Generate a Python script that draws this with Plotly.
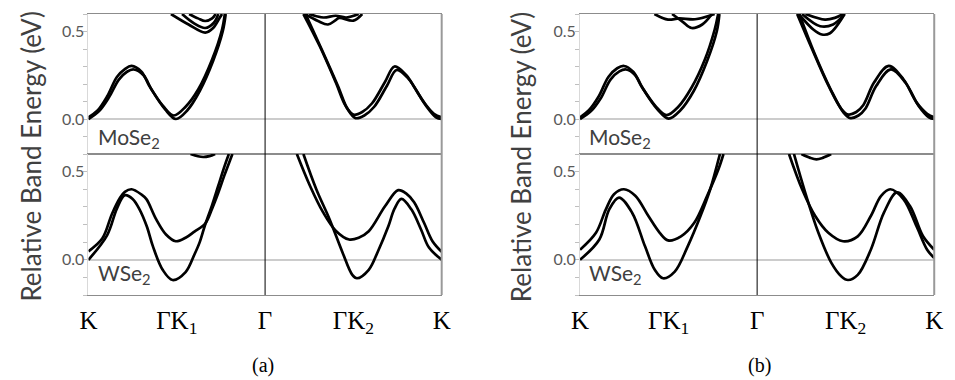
import plotly.graph_objects as go

# ---------------- data (x: path coordinate K=0, Γ=1, K=2; y: eV) ----------------
tick_pos = [0, 0.5, 1, 1.5, 2]
tick_txt = ["K", "ΓK<sub>1</sub>", "Γ", "ΓK<sub>2</sub>", "K"]

# (a) MoSe2
a_mo_A_x = [0, 0.05, 0.106, 0.161, 0.206, 0.244, 0.30, 0.344, 0.422, 0.483, 0.55, 0.622, 0.70, 0.756, 0.772,
            1.217, 1.309, 1.40, 1.456, 1.50, 1.55, 1.606, 1.678, 1.733, 1.80, 1.828, 1.90, 1.956, 2.0]
a_mo_A_y = [0.01, 0.047, 0.13, 0.24, 0.285, 0.303, 0.27, 0.19, 0.075, 0.02, 0.07, 0.17, 0.34, 0.51, 0.60,
            0.60, 0.417, 0.21, 0.075, 0.025, 0.04, 0.09, 0.21, 0.30, 0.25, 0.21, 0.095, 0.03, 0.01]
a_mo_B_x = [0, 0.06, 0.117, 0.172, 0.218, 0.256, 0.312, 0.356, 0.434, 0.495, 0.56, 0.63, 0.705, 0.76, 0.777,
            1.229, 1.321, 1.412, 1.468, 1.512, 1.562, 1.618, 1.69, 1.745, 1.812, 1.84, 1.912, 1.968, 2.0]
a_mo_B_y = [0.0, 0.045, 0.125, 0.225, 0.27, 0.283, 0.25, 0.17, 0.055, 0.0, 0.05, 0.16, 0.33, 0.50, 0.60,
            0.60, 0.397, 0.19, 0.055, 0.005, 0.02, 0.07, 0.19, 0.28, 0.23, 0.19, 0.075, 0.01, 0.0]
a_mo_U1_x = [0.467, 0.567, 0.661, 0.706, 0.744, 0.756]
a_mo_U1_y = [0.60, 0.54, 0.494, 0.52, 0.58, 0.60]
a_mo_U2_x = [0.53, 0.60, 0.661, 0.71, 0.735]
a_mo_U2_y = [0.60, 0.545, 0.52, 0.55, 0.60]
a_mo_U3_x = [0.57, 0.62, 0.661, 0.70, 0.72]
a_mo_U3_y = [0.60, 0.575, 0.56, 0.575, 0.60]
a_mo_U4_x = [1.226, 1.30, 1.356, 1.40, 1.42, 1.50, 1.55]
a_mo_U4_y = [0.60, 0.56, 0.54, 0.565, 0.578, 0.562, 0.60]
a_mo_U5_x = [1.25, 1.33, 1.40, 1.46, 1.53]
a_mo_U5_y = [0.60, 0.58, 0.59, 0.58, 0.60]

# (a) WSe2
a_w_A_x = [0, 0.078, 0.133, 0.178, 0.206, 0.244, 0.30, 0.328, 0.383, 0.439, 0.494, 0.55, 0.60, 0.661, 0.70, 0.735, 0.77, 0.80, 0.815,
           1.18, 1.254, 1.328, 1.40, 1.476, 1.53, 1.587, 1.68, 1.754, 1.80, 1.844, 1.90, 1.948, 2.0]
a_w_A_y = [0.048, 0.12, 0.26, 0.35, 0.385, 0.40, 0.37, 0.344, 0.23, 0.143, 0.105, 0.125, 0.16, 0.205, 0.29, 0.38, 0.48, 0.56, 0.60,
           0.60, 0.42, 0.27, 0.165, 0.115, 0.125, 0.162, 0.305, 0.395, 0.375, 0.326, 0.21, 0.105, 0.045]
a_w_B_x = [0, 0.106, 0.161, 0.206, 0.25, 0.289, 0.33, 0.365, 0.42, 0.476, 0.55, 0.60, 0.63, 0.661, 0.70, 0.735, 0.77, 0.795,
           1.217, 1.29, 1.365, 1.439, 1.494, 1.52, 1.587, 1.64, 1.698, 1.733, 1.772, 1.828, 1.883, 1.928, 2.0]
a_w_B_y = [0.0, 0.14, 0.29, 0.366, 0.345, 0.286, 0.19, 0.076, -0.057, -0.115, -0.07, 0.03, 0.10, 0.20, 0.31, 0.42, 0.53, 0.60,
           0.60, 0.40, 0.23, 0.04, -0.086, -0.105, -0.057, 0.05, 0.19, 0.29, 0.345, 0.286, 0.172, 0.069, 0.0]
a_w_U_x = [0.578, 0.62, 0.65, 0.685, 0.717]
a_w_U_y = [0.60, 0.587, 0.583, 0.588, 0.60]

# (b) MoSe2
b_mo_A_x = [0, 0.05, 0.106, 0.16, 0.21, 0.248, 0.30, 0.345, 0.425, 0.488, 0.555, 0.63, 0.705, 0.76, 0.78,
            1.226, 1.31, 1.403, 1.476, 1.515, 1.56, 1.60, 1.66, 1.743, 1.826, 1.90, 1.96, 2.0]
b_mo_A_y = [0.01, 0.05, 0.13, 0.24, 0.29, 0.303, 0.27, 0.19, 0.075, 0.022, 0.07, 0.18, 0.34, 0.51, 0.60,
            0.60, 0.40, 0.19, 0.057, 0.025, 0.04, 0.08, 0.208, 0.303, 0.227, 0.095, 0.03, 0.01]
b_mo_B_x = [0, 0.062, 0.118, 0.172, 0.222, 0.26, 0.312, 0.357, 0.437, 0.50, 0.567, 0.642, 0.717, 0.772, 0.787,
            1.238, 1.322, 1.415, 1.488, 1.527, 1.572, 1.612, 1.672, 1.755, 1.838, 1.912, 1.97, 2.0]
b_mo_B_y = [0.0, 0.045, 0.12, 0.225, 0.272, 0.283, 0.25, 0.17, 0.055, 0.002, 0.05, 0.16, 0.33, 0.50, 0.60,
            0.60, 0.38, 0.17, 0.037, 0.005, 0.02, 0.06, 0.188, 0.283, 0.207, 0.075, 0.01, 0.0]
b_mo_U1_x = [0.52, 0.58, 0.63, 0.69, 0.745]
b_mo_U1_y = [0.60, 0.555, 0.52, 0.54, 0.60]
b_mo_U2_x = [0.42, 0.497, 0.56, 0.65, 0.76]
b_mo_U2_y = [0.60, 0.568, 0.575, 0.57, 0.60]
b_mo_U3_x = [1.235, 1.319, 1.365, 1.411, 1.494]
b_mo_U3_y = [0.60, 0.51, 0.483, 0.49, 0.60]
b_mo_U4_x = [1.254, 1.356, 1.429, 1.494]
b_mo_U4_y = [0.60, 0.53, 0.54, 0.60]
b_mo_U5_x = [1.273, 1.383, 1.439, 1.485]
b_mo_U5_y = [0.60, 0.568, 0.578, 0.60]

# (b) WSe2
b_w_A_x = [0, 0.09, 0.146, 0.192, 0.248, 0.312, 0.386, 0.45, 0.497, 0.57, 0.645, 0.718, 0.782, 0.81,
           1.18, 1.254, 1.328, 1.402, 1.485, 1.568, 1.642, 1.70, 1.752, 1.826, 1.90, 1.96, 2.0]
b_w_A_y = [0.057, 0.153, 0.286, 0.372, 0.40, 0.363, 0.248, 0.153, 0.11, 0.133, 0.21, 0.363, 0.515, 0.60,
           0.60, 0.40, 0.248, 0.153, 0.105, 0.133, 0.248, 0.363, 0.40, 0.344, 0.19, 0.057, 0.01]
b_w_B_x = [0, 0.109, 0.165, 0.22, 0.294, 0.367, 0.422, 0.469, 0.535, 0.608, 0.68, 0.735, 0.79,
           1.208, 1.272, 1.346, 1.42, 1.476, 1.513, 1.568, 1.642, 1.716, 1.79, 1.863, 1.937, 2.0]
b_w_B_y = [0.0, 0.115, 0.286, 0.353, 0.267, 0.076, -0.057, -0.105, -0.067, 0.076, 0.248, 0.40, 0.60,
           0.60, 0.38, 0.153, -0.019, -0.095, -0.115, -0.086, 0.057, 0.267, 0.382, 0.305, 0.133, 0.057]
b_w_U_x = [1.25, 1.30, 1.335, 1.37, 1.418]
b_w_U_y = [0.60, 0.578, 0.57, 0.578, 0.60]

# ---------------- figure ----------------
W, H = 955, 380
XA = [81 / W, 441 / W]
XB = [582 / W, 943 / W]
YT = [1 - 154 / H, 1 - 14 / H]
YB = [1 - 295 / H, 1 - 154 / H]

fig = go.Figure()


def band(xs, ys, xa, ya):
    # split at the jump across Γ so the two halves are separate pieces
    segs = [[]]
    for i, (x, y) in enumerate(zip(xs, ys)):
        if i > 0 and xs[i - 1] < 1 < x:
            segs.append([])
        segs[-1].append((x, y))
    for s in segs:
        fig.add_trace(go.Scatter(
            x=[p[0] for p in s], y=[p[1] for p in s], mode="lines",
            line=dict(color="black", width=2.7, shape="spline", smoothing=1.0),
            xaxis=xa, yaxis=ya, showlegend=False, hoverinfo="skip"))


panels = [
    ("x", "y", [(a_mo_A_x, a_mo_A_y), (a_mo_B_x, a_mo_B_y), (a_mo_U1_x, a_mo_U1_y), (a_mo_U2_x, a_mo_U2_y),
                (a_mo_U3_x, a_mo_U3_y), (a_mo_U4_x, a_mo_U4_y), (a_mo_U5_x, a_mo_U5_y)]),
    ("x2", "y2", [(a_w_A_x, a_w_A_y), (a_w_B_x, a_w_B_y), (a_w_U_x, a_w_U_y)]),
    ("x3", "y3", [(b_mo_A_x, b_mo_A_y), (b_mo_B_x, b_mo_B_y), (b_mo_U1_x, b_mo_U1_y), (b_mo_U2_x, b_mo_U2_y),
                  (b_mo_U3_x, b_mo_U3_y), (b_mo_U4_x, b_mo_U4_y), (b_mo_U5_x, b_mo_U5_y)]),
    ("x4", "y4", [(b_w_A_x, b_w_A_y), (b_w_B_x, b_w_B_y), (b_w_U_x, b_w_U_y)]),
]
for xa, ya, curves in panels:
    for xs, ys in curves:
        band(xs, ys, xa, ya)

frame = "#8c8c8c"
tickfont = dict(family="Lato", size=16, color="#595959")


def xax(domain, anchor, labels):
    d = dict(domain=domain, anchor=anchor, range=[0, 2], showgrid=False, zeroline=False,
             showline=True, mirror=True, linecolor=frame, linewidth=1.2, fixedrange=True)
    if labels:
        d.update(tickmode="array", tickvals=tick_pos, ticktext=tick_txt, ticks="",
                 ticklabelstandoff=3,
                 tickfont=dict(family="Liberation Serif", size=25, color="black"))
    else:
        d.update(showticklabels=False, ticks="")
    return d


def yax(domain, anchor):
    return dict(domain=domain, anchor=anchor, range=[-0.2, 0.6], tickmode="linear", tick0=0, dtick=0.5,
                tickformat=".1f", ticks="outside", ticklen=4, tickcolor="#bfbfbf", tickfont=tickfont,
                ticklabelstandoff=-4,
                minor=dict(dtick=0.1, tick0=0, ticks="outside", ticklen=4, tickcolor="#bfbfbf", showgrid=False),
                showgrid=False, zeroline=True, zerolinecolor="#cccccc", zerolinewidth=1.5,
                showline=True, linecolor="#d9d9d9", linewidth=1, fixedrange=True)


fig.update_layout(
    width=W, height=H, margin=dict(l=0, r=0, t=0, b=0),
    paper_bgcolor="white", plot_bgcolor="white",
    xaxis=xax(XA, "y", False), yaxis=yax(YT, "x"),
    xaxis2=xax(XA, "y2", True), yaxis2=yax(YB, "x2"),
    xaxis3=xax(XB, "y3", False), yaxis3=yax(YT, "x3"),
    xaxis4=xax(XB, "y4", True), yaxis4=yax(YB, "x4"),
)

shapes = []
for xr in ["x", "x3"]:
    shapes.append(dict(type="line", xref=xr, yref="paper", x0=1, x1=1, y0=YB[0], y1=YT[1],
                       line=dict(color="black", width=1)))
    shapes.append(dict(type="line", xref=xr + " domain", yref="paper", x0=1, x1=1, y0=YB[0], y1=YT[1],
                       line=dict(color="#999999", width=2)))
fig.update_layout(shapes=shapes)

lab = dict(family="Lato", size=21, color="#404040")
ann = []
for x0, xt, xc, tag in [(89, 22, 259, "(a)"), (589, 522, 765, "(b)")]:
    ann.append(dict(text="MoSe<sub>2</sub>", x=x0 / W, y=1 - 138 / H, xref="paper", yref="paper",
                    xanchor="left", yanchor="middle", showarrow=False, font=lab))
    ann.append(dict(text="WSe<sub>2</sub>", x=x0 / W, y=1 - 274 / H, xref="paper", yref="paper",
                    xanchor="left", yanchor="middle", showarrow=False, font=lab))
    ann.append(dict(text="Relative Band Energy (eV)", x=xt / W, y=1 - 157 / H, xref="paper", yref="paper",
                    xanchor="center", yanchor="middle", textangle=-90, showarrow=False,
                    font=dict(family="Lato", size=26, color="#404040")))
    ann.append(dict(text=tag, x=xc / W, y=1 - 365 / H, xref="paper", yref="paper",
                    xanchor="center", yanchor="middle", showarrow=False,
                    font=dict(family="Liberation Serif", size=20, color="black")))
fig.update_layout(annotations=ann)

fig.write_html("out.html")
